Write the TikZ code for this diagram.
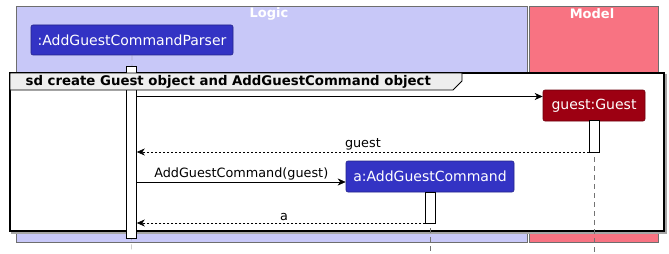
\documentclass[tikz,border=0pt]{standalone}
\usepackage{fontspec}
\setmainfont{DejaVu Sans}
\usetikzlibrary{arrows.meta}

\definecolor{logicbg}{HTML}{C8C8F8}
\definecolor{modelbg}{HTML}{F87382}
\definecolor{logicobj}{HTML}{3333C4}
\definecolor{modelobj}{HTML}{9D0012}
\definecolor{boxline}{HTML}{6E6E6E}
\definecolor{tabbg}{HTML}{EEEEEE}

\begin{document}
\begin{tikzpicture}[
            x = 1pt, y = -1pt, % pixel grid, y going down
            > = {Stealth[length=8pt,width=7pt,inset=2.5pt]}, % arrow head style
            semithick % line style
        ]

        \tikzstyle{layer}=[
            draw = boxline,
            thin
        ]
        \tikzstyle{participant}=[
            rectangle,
            rounded corners = 2pt,
            text = white,
            inner sep = 0pt,
            font = \fontsize{14}{16}\selectfont
        ]
        \tikzstyle{activation}=[
            draw = black,
            fill = white,
            semithick,
            minimum width = 10pt,
            inner sep = 0pt
        ]
        \tikzstyle{lifeline}=[draw = black!55, thin, dash pattern = on 5pt off 4pt]
        \tikzstyle{msg}=[->, black]
        \tikzstyle{reply}=[->, black, dash pattern = on 2pt off 2pt]
        \tikzstyle{msglabel}=[font = \fontsize{12.8}{14}\selectfont, above, inner sep = 2pt]

        \useasboundingbox (0,0) rectangle (669,254);

        % layer boxes
        \draw[layer, fill=logicbg] (16,6) rectangle (527.5,242);
        \draw[layer, fill=modelbg] (529.5,6) rectangle (658,242);
        \node[text=white, font=\fontsize{13}{15}\selectfont\bfseries] (logic) at (269,14) {Logic};
        \node[text=white, font=\fontsize{13}{15}\selectfont\bfseries] (model) at (592,14) {Model};

        % parser participant
        \node[participant, fill=logicobj, draw=logicobj!70!black, minimum width=202pt, minimum height=30pt] (parser) at (132,40) {:AddGuestCommandParser};

        % sd frame body
        \draw[black!35, line width=2pt] (12,75) rectangle (666,233);
        \draw[black, line width=1.3pt, fill=white] (10,73) rectangle (664,231);

        % created participants
        \node[participant, fill=modelobj, draw=modelobj!70!black, minimum width=102pt, minimum height=31pt] (guest) at (594,105.5) {guest:Guest};
        \node[participant, fill=logicobj, draw=logicobj!70!black, minimum width=168pt, minimum height=31pt] (cmd) at (430,176.5) {a:AddGuestCommand};

        % lifelines
        \draw[lifeline] (parser.south) -- (131.5,252);
        \draw[lifeline] (guest.south) -- (594,252);
        \draw[lifeline] (cmd.south) -- (430,252);

        % activation bars
        \node[activation, minimum height=172pt] (parserAct) at (131.5,152) {};
        \node[activation, minimum height=32pt] (guestAct) at (594.3,136) {};
        \node[activation, minimum height=31pt] (cmdAct) at (430.7,207.5) {};

        % sd frame tab, on top of the bar
        \draw[black, thick, fill=tabbg] (10,73) -- (462,73) -- (462,81) -- (453,90) -- (10,90) -- cycle;
        \node[font=\fontsize{13.3}{15}\selectfont\bfseries, anchor=west] (title) at (22,81.5) {sd create Guest object and AddGuestCommand object};

        \coordinate (create) at (0,96.5);
        \coordinate (back) at (0,152);
        \coordinate (make) at (0,182);
        \coordinate (done) at (0,223);

        % messages
        \draw[msg] (parserAct.east |- create) -- (guest.west |- create);
        \draw[reply] (guestAct.west |- back) -- node[msglabel] {guest} (parserAct.east |- back);
        \draw[msg] (parserAct.east |- make) -- node[msglabel] {AddGuestCommand(guest)} (cmd.west |- make);
        \draw[reply] (cmdAct.west |- done) -- node[msglabel, pos=0.49] {a} (parserAct.east |- done);
    \end{tikzpicture}
\end{document}
